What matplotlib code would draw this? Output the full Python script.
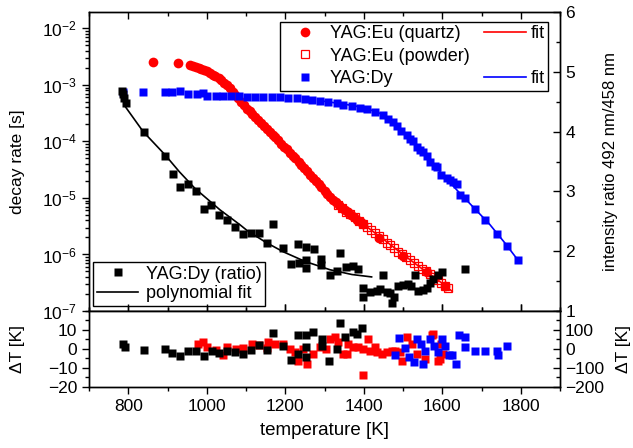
import numpy as np
import matplotlib
matplotlib.use("Agg")
import matplotlib.pyplot as plt
from matplotlib.lines import Line2D
from matplotlib.ticker import MultipleLocator, LogLocator, NullFormatter

plt.rcParams['font.family'] = ['Liberation Sans', 'DejaVu Sans']
plt.rcParams['mathtext.default'] = 'regular'
plt.rcParams['font.size'] = 12

# ---------------- data ----------------
# YAG:Eu (quartz) decay rate, log10 values
eu_quartz_T = [864, 927, 958, 965, 972, 979, 986, 993, 1000, 1008, 1015, 1022, 1030, 1037, 1044,
               1051, 1058, 1066, 1073, 1080, 1087, 1095, 1102, 1109, 1116, 1124, 1131, 1138, 1146,
               1153, 1160, 1168, 1175, 1182, 1190, 1197, 1204, 1212, 1219, 1226, 1234, 1241, 1248,
               1256, 1263, 1270, 1278, 1285, 1292, 1300, 1307, 1315, 1322, 1330, 1337, 1345, 1352,
               1360, 1368, 1376, 1384, 1392, 1398, 1440, 1500, 1560, 1607]
eu_quartz_log = [-2.60, -2.61, -2.65, -2.66, -2.68, -2.70, -2.72, -2.74, -2.76, -2.79, -2.82, -2.85,
                 -2.88, -2.92, -2.96, -3.01, -3.06, -3.12, -3.18, -3.24, -3.30, -3.36, -3.42, -3.47,
                 -3.52, -3.57, -3.62, -3.67, -3.73, -3.78, -3.83, -3.88, -3.93, -3.98, -4.04, -4.09,
                 -4.14, -4.20, -4.25, -4.30, -4.36, -4.42, -4.47, -4.53, -4.59, -4.64, -4.70, -4.76,
                 -4.81, -4.87, -4.93, -4.98, -5.03, -5.08, -5.12, -5.17, -5.21, -5.25, -5.30, -5.34,
                 -5.39, -5.43, -5.46, -5.70, -6.03, -6.31, -6.55]

# YAG:Eu (powder)
eu_powder_T = [1335, 1345, 1356, 1366, 1377, 1388, 1398, 1408, 1418, 1428, 1438, 1448, 1458, 1468,
               1478, 1488, 1498, 1508, 1518, 1528, 1538, 1548, 1558, 1568, 1578, 1588, 1598, 1608, 1615]
eu_powder_log = [-5.12, -5.18, -5.24, -5.29, -5.34, -5.40, -5.46, -5.51, -5.57, -5.62, -5.68, -5.73,
                 -5.79, -5.84, -5.89, -5.95, -6.00, -6.05, -6.10, -6.15, -6.20, -6.25, -6.30, -6.35,
                 -6.40, -6.45, -6.50, -6.55, -6.59]

eu_fit_T = [960, 1050, 1100, 1150, 1200, 1250, 1300, 1350, 1400, 1450, 1500, 1550, 1600, 1625]
eu_fit_log = [-2.65, -3.00, -3.40, -3.77, -4.12, -4.49, -4.87, -5.20, -5.47, -5.73, -6.00, -6.26, -6.51, -6.65]

# YAG:Dy decay rate
dy_T = [787, 838, 894, 911, 932, 953, 974, 991, 1001, 1023, 1042, 1063, 1083, 1103, 1123, 1144, 1165,
        1187, 1208, 1229, 1250, 1267, 1288, 1310, 1331, 1348, 1369, 1390, 1407, 1428, 1450, 1462,
        1475, 1484, 1494, 1509, 1518, 1526, 1535, 1543, 1552, 1560, 1569, 1581, 1586, 1598, 1611,
        1620, 1628, 1637, 1645, 1658, 1683, 1710, 1739, 1764, 1792]
dy_log = [-3.12, -3.12, -3.13, -3.13, -3.10, -3.16, -3.16, -3.15, -3.20, -3.20, -3.20, -3.20, -3.20,
          -3.21, -3.21, -3.21, -3.22, -3.22, -3.23, -3.235, -3.25, -3.265, -3.28, -3.30, -3.32, -3.35,
          -3.37, -3.40, -3.43, -3.48, -3.54, -3.60, -3.66, -3.73, -3.82, -3.89, -3.95, -4.00, -4.09,
          -4.16, -4.18, -4.26, -4.36, -4.44, -4.46, -4.59, -4.65, -4.68, -4.71, -4.76, -4.94, -5.00,
          -5.19, -5.39, -5.63, -5.85, -6.09]

dy_fit_T = [1300, 1350, 1400, 1440, 1480, 1520, 1560, 1600, 1640, 1680, 1720, 1760, 1795]
dy_fit_log = [-3.29, -3.34, -3.40, -3.50, -3.70, -3.97, -4.27, -4.58, -4.88, -5.17, -5.46, -5.80, -6.12]

# YAG:Dy intensity ratio (right axis)
ratio_T = [785, 787, 789, 793, 841, 894, 913, 932, 953, 972, 992, 1012, 1032, 1052, 1073, 1093, 1113,
           1134, 1154, 1169, 1194, 1214, 1233, 1235, 1254, 1254, 1254, 1273, 1292, 1292, 1313, 1333,
           1339, 1354, 1373, 1386, 1399, 1399, 1416, 1433, 1441, 1448, 1458, 1468, 1471, 1477, 1488,
           1501, 1513, 1520, 1530, 1539, 1550, 1561, 1569, 1577, 1588, 1600, 1658]
ratio_val = [4.68, 4.63, 4.56, 4.48, 4.00, 3.59, 3.29, 3.07, 3.12, 3.01, 2.71, 2.77, 2.61, 2.53, 2.40,
             2.29, 2.31, 2.31, 2.13, 2.45, 2.06, 1.78, 2.12, 1.81, 2.07, 1.86, 1.72, 2.03, 1.87, 1.77,
             1.60, 1.67, 1.97, 1.73, 1.76, 1.71, 1.38, 1.24, 1.32, 1.34, 1.36, 1.60, 1.31, 1.30, 1.13,
             1.24, 1.41, 1.43, 1.45, 1.42, 1.61, 1.34, 1.35, 1.38, 1.46, 1.53, 1.60, 1.66, 1.70]

poly_T = [790, 838, 894, 930, 970, 1034, 1085, 1102, 1150, 1195, 1250, 1314, 1370, 1420]
poly_val = [4.44, 4.00, 3.61, 3.33, 3.05, 2.69, 2.44, 2.35, 2.15, 1.99, 1.83, 1.69, 1.61, 1.57]

# residuals
res_ratio_T = [787, 792, 841, 894, 912, 932, 953, 973, 993, 1013, 1032, 1052, 1073, 1093, 1113, 1134,
               1153, 1169, 1195, 1214, 1233, 1233, 1253, 1253, 1253, 1271, 1293, 1293, 1312, 1333,
               1339, 1352, 1372, 1384, 1395]
res_ratio = [2.6, 1.2, -0.4, 0.0, -2.3, -3.9, -1.2, -0.9, -3.9, -1.2, -2.1, -1.2, -1.8, -2.6, -0.5, 2.1,
             -0.5, 8.2, 1.7, -5.8, 7.5, -2.6, 7.5, 1.2, -4.1, 8.7, 5.3, 1.7, -6.5, 0.0, 13.5, 6.1, 8.7,
             7.9, 11.0]

res_eu_T = [978, 991, 1000, 1023, 1042, 1052, 1074, 1093, 1114, 1134, 1153, 1157, 1174, 1195, 1212,
            1225, 1233, 1246, 1255, 1271, 1288, 1305, 1314, 1327, 1335, 1348, 1357, 1360, 1373, 1386,
            1397, 1399, 1412, 1416, 1429, 1433, 1446, 1458, 1471, 1480, 1492, 1498, 1509, 1522, 1535,
            1556, 1573, 1577, 1590, 1594, 1598, 1603]
res_eu = [2.6, 3.5, 1.2, -0.5, -3.5, 0.9, 0.0, 0.7, 2.4, 2.0, 0.5, 3.5, 2.6, 2.6, 0.0, -1.8, -6.2, 0.0,
          -7.9, -2.6, 0.9, 0.0, 5.3, 6.1, 3.5, -2.6, -2.6, 2.6, 0.9, 0.9, -14.0, 0.0, 5.3, -0.9, 0.9,
          -1.8, -2.6, -1.8, -0.9, -0.9, -1.8, -6.2, 6.1, 2.6, -2.6, -5.3, 7.5, 7.9, -6.2, -5.6, 2.6, -2.6]

res_dy_T = [1480, 1491, 1505, 1516, 1528, 1535, 1545, 1552, 1556, 1569, 1578, 1588, 1600, 1607, 1617,
            1626, 1634, 1643, 1658, 1658, 1683, 1709, 1739, 1743, 1764]
res_dy = [-35, 55, 5, -44, -70, 52, 26, -79, -12, 52, 17, -18, 52, 17, -35, -35, -79, 75, 61, 8, -12,
          -9, -9, -30, 14]

# ---------------- figure ----------------
fig = plt.figure(figsize=(6.33, 4.48), dpi=100)
L, W = 0.1406, 0.7441
ax = fig.add_axes([L, 0.3058, W, 0.6674])
ax2 = ax.twinx()
axr = fig.add_axes([L, 0.1368, W, 0.169])
axr2 = axr.twinx()

red, blue = '#ff0000', '#0000ff'
ms_sq = 6.0
ms_c = 7.0
tfs = 12.5   # tick label size
lfs = 13     # legend size

ax.plot(eu_fit_T, np.power(10.0, eu_fit_log), color=red, lw=1.2, zorder=2)
ax.plot(dy_fit_T, np.power(10.0, dy_fit_log), color=blue, lw=1.2, zorder=2)
ax.plot(eu_quartz_T, np.power(10.0, eu_quartz_log), 'o', color=red, ms=ms_c, mec='none', zorder=3)
ax.plot(eu_powder_T, np.power(10.0, eu_powder_log), 's', mfc='none', mec=red, ms=6.0, mew=0.9, zorder=4)
ax.plot(dy_T, np.power(10.0, dy_log), 's', color=blue, ms=ms_sq, mec='none', zorder=3)
ax.set_yscale('log')
ax.set_ylim(1e-7, 1.95e-2)
ax.set_xlim(700, 1900)

ax2.plot(poly_T, poly_val, color='black', lw=1.2, zorder=2)
ax2.plot(ratio_T, ratio_val, 's', color='black', ms=ms_sq, mec='none', zorder=3)
ax2.set_ylim(1, 6)
ax2.set_xlim(700, 1900)

axr.plot(res_ratio_T, res_ratio, 's', color='black', ms=ms_sq, mec='none', zorder=4)
axr.plot(res_eu_T, res_eu, 's', color=red, ms=ms_sq, mec='none', zorder=3)
axr.set_ylim(-20, 20)
axr.set_xlim(700, 1900)
axr2.plot(res_dy_T, res_dy, 's', color=blue, ms=ms_sq, mec='none')
axr2.set_ylim(-200, 200)

# ticks
for a in (ax, ax2, axr, axr2):
    for s in a.spines.values():
        s.set_linewidth(1.0)

ax.xaxis.set_major_locator(MultipleLocator(200))
ax.xaxis.set_minor_locator(MultipleLocator(100))
ax.tick_params(axis='x', which='both', top=True, bottom=True, direction='in',
               labelbottom=False, labeltop=False)
ax.tick_params(axis='x', which='major', length=5, width=1)
ax.tick_params(axis='x', which='minor', length=3, width=1)
ax.yaxis.set_major_locator(LogLocator(base=10, numticks=20))
ax.yaxis.set_minor_locator(LogLocator(base=10, subs=(2, 3, 4, 5, 6, 7, 8, 9), numticks=20))
ax.yaxis.set_minor_formatter(NullFormatter())
ax.tick_params(axis='y', which='both', direction='out', left=True, right=False, labelsize=tfs)
ax.tick_params(axis='y', which='major', length=5, width=1)
ax.tick_params(axis='y', which='minor', length=3, width=1)

ax2.yaxis.set_major_locator(MultipleLocator(1))
ax2.yaxis.set_minor_locator(MultipleLocator(0.5))
ax2.tick_params(axis='y', which='both', direction='in', labelsize=tfs, pad=4)
ax2.tick_params(axis='y', which='major', length=5, width=1)
ax2.tick_params(axis='y', which='minor', length=3, width=1)

axr.xaxis.set_major_locator(MultipleLocator(200))
axr.xaxis.set_minor_locator(MultipleLocator(100))
axr.tick_params(axis='x', which='both', top=True, bottom=True, direction='out', labelsize=tfs)
axr.tick_params(axis='x', which='major', length=5, width=1)
axr.tick_params(axis='x', which='minor', length=3, width=1)
axr.set_yticks([-20, -10, 0, 10])
axr.yaxis.set_minor_locator(MultipleLocator(5))
axr.tick_params(axis='y', which='both', direction='out', labelsize=tfs)
axr.tick_params(axis='y', which='major', length=5, width=1)
axr.tick_params(axis='y', which='minor', length=3, width=1)

axr2.set_yticks([-200, -100, 0, 100])
axr2.yaxis.set_minor_locator(MultipleLocator(50))
axr2.tick_params(axis='y', which='both', direction='in', labelsize=tfs)
axr2.tick_params(axis='y', which='major', length=5, width=1)
axr2.tick_params(axis='y', which='minor', length=3, width=1)

# labels
ax.set_ylabel('decay rate [s]', fontsize=12.5)
ax.yaxis.set_label_coords(-0.135, 0.5)
ax2.set_ylabel('intensity ratio 492 nm/458 nm', fontsize=12, rotation=90)
ax2.yaxis.set_label_coords(1.092, 0.5)
axr.set_ylabel('ΔT [K]', fontsize=12.5)
axr.yaxis.set_label_coords(-0.135, 0.5)
axr2.set_ylabel('ΔT [K]', fontsize=12.5, rotation=90)
axr2.yaxis.set_label_coords(1.118, 0.5)
axr.set_xlabel('temperature [K]', fontsize=13.5)
axr.xaxis.set_label_coords(0.5, -0.46)

# legends
h_q = Line2D([], [], ls='none', marker='o', color=red, ms=ms_c, mec='none')
h_p = Line2D([], [], ls='none', marker='s', mfc='none', mec=red, ms=6.0, mew=0.9)
h_d = Line2D([], [], ls='none', marker='s', color=blue, ms=ms_sq, mec='none')
h_rf = Line2D([], [], color=red, lw=1.2)
h_blank = Line2D([], [], ls='none')
h_bf = Line2D([], [], color=blue, lw=1.2)
leg1 = ax2.legend([h_q, h_p, h_d, h_rf, h_blank, h_bf],
                  ['YAG:Eu (quartz)', 'YAG:Eu (powder)', 'YAG:Dy', 'fit', '', 'fit'],
                  ncol=2, loc='upper right', bbox_to_anchor=(0.9745, 0.9676), borderaxespad=0,
                  fancybox=False, edgecolor='black', framealpha=1, fontsize=lfs,
                  handlelength=2.3, handletextpad=0.25, columnspacing=0.8, labelspacing=0.3,
                  borderpad=0.2)
leg1.get_frame().set_linewidth(1.0)

h_r = Line2D([], [], ls='none', marker='s', color='black', ms=ms_sq, mec='none')
h_pf = Line2D([], [], color='black', lw=1.2)
leg2 = ax2.legend([h_r, h_pf], ['YAG:Dy (ratio)', 'polynomial fit'],
                  loc='lower left', bbox_to_anchor=(0.009, 0.0167), borderaxespad=0,
                  fancybox=False, edgecolor='black', framealpha=1, fontsize=lfs,
                  handlelength=2.3, handletextpad=0.4, labelspacing=0.15, borderpad=0.2)
leg2.get_frame().set_linewidth(1.0)
ax2.add_artist(leg1)

fig.savefig('out.png', dpi=100)
